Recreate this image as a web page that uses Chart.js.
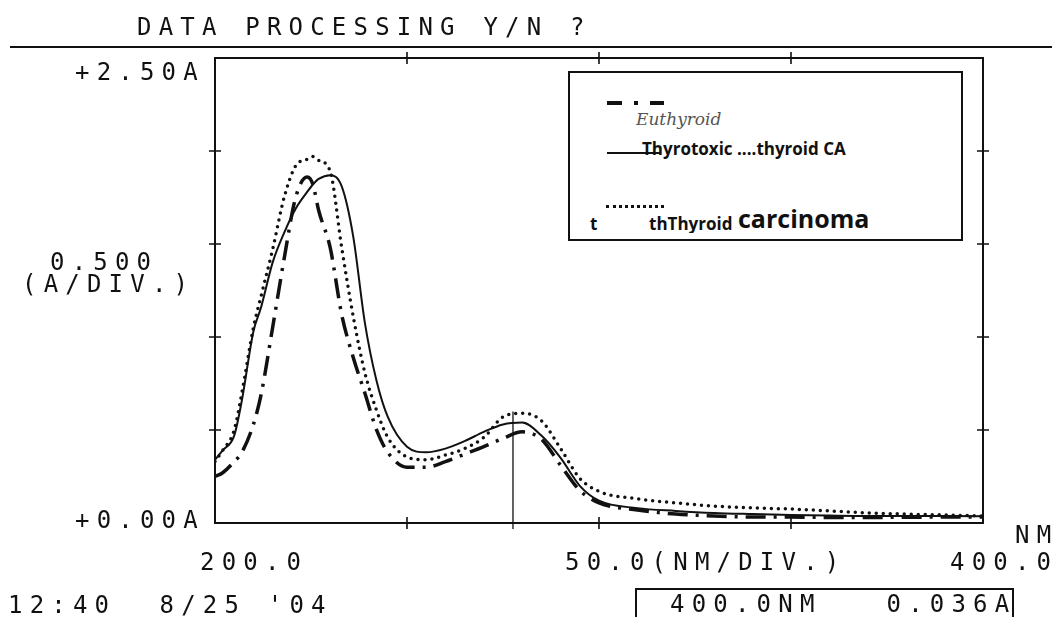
<!DOCTYPE html>
<html>
<head>
<meta charset="utf-8">
<script src="https://cdn.jsdelivr.net/npm/chart.js@4/dist/chart.umd.min.js"></script>
<style>
  html, body { margin: 0; padding: 0; background: #fff; overflow: hidden; }
  #wrap { position: relative; width: 1052px; height: 617px; }
  #wrap canvas { position: absolute; left: 0; top: 0; }
  .pl { position: absolute; font-family: "DejaVu Sans Mono", monospace; font-size: 24px;
        line-height: 24px; letter-spacing: 7.2px; color: #111; white-space: pre; }
  #legend { position: absolute; left: 568px; top: 71px; width: 391px; height: 166px;
            border: 2px solid #111; background: #fff; }
  .lg { position: absolute; white-space: pre; color: #111; }
  .bold { font-family: "Open Sans", sans-serif; font-weight: 700; }
  #readout { position: absolute; left: 635px; top: 588px; width: 375px; height: 34px;
             border: 2px solid #111; }
</style>
</head>
<body>
<div id="wrap">
  <canvas id="c" width="1052" height="617"></canvas>

  <div class="pl" style="left:137px; top:15px;">DATA PROCESSING Y/N ?</div>
  <div class="pl" style="left:75px; top:60px;">+2.50A</div>
  <div class="pl" style="left:50px; top:250px;">0.500</div>
  <div class="pl" style="left:22px; top:272px;">(A/DIV.)</div>
  <div class="pl" style="left:75px; top:508px;">+0.00A</div>
  <div class="pl" style="left:200px; top:550px;">200.0</div>
  <div class="pl" style="left:565px; top:550px;">50.0(NM/DIV.)</div>
  <div class="pl" style="left:950px; top:550px;">400.0</div>
  <div class="pl" style="left:1015px; top:523px;">NM</div>
  <div class="pl" style="left:8px; top:593px;">12:40  8/25 '04</div>
  <div id="readout"></div>
  <div class="pl" style="left:670px; top:592px;">400.0NM   0.036A</div>

  <div id="legend">
    <div style="position:absolute; left:37px; top:28px; width:15px; height:4px; background:#111;"></div>
    <div style="position:absolute; left:64px; top:28px; width:4px; height:4px; background:#111;"></div>
    <div style="position:absolute; left:80px; top:28px; width:14px; height:4px; background:#111;"></div>
    <div class="lg" style="left:66px; top:36px; font-family:'DejaVu Serif', serif; font-style:italic; font-size:17px; color:#555;">Euthyroid</div>
    <div style="position:absolute; left:37px; top:79px; width:54px; height:2px; background:#111;"></div>
    <div class="lg bold" style="left:72px; top:64px; font-size:17px;">Thyrotoxic ....thyroid CA</div>
    <div style="position:absolute; left:36px; top:132px; width:58px; height:0; border-top:3px dotted #111;"></div>
    <div class="lg bold" style="left:20px; top:139px; font-size:17px;">t</div>
    <div class="lg bold" style="left:79px; top:139px; font-size:17px; height:21px; overflow:hidden;">thThyroid</div>
    <div class="lg bold" style="left:168px; top:128px; font-size:25px;">carcinoma</div>
  </div>
</div>

<script>
// Wavelength (nm) and absorbance (A) readings for the three serum spectra
const wavelengths = [200, 202, 205, 207, 210, 212, 215, 218, 221, 224, 225.5, 227, 230, 233, 236, 239,
                     242, 245, 250, 255, 260, 265, 270, 275, 280, 285, 290, 295, 300, 310, 320,
                     330, 340, 350, 360, 370, 380, 390, 400];

const euthyroid = [0.25, 0.27, 0.33, 0.38, 0.53, 0.69, 1.05, 1.42, 1.75, 1.86, 1.82, 1.68, 1.48, 1.12, 0.89, 0.70,
                   0.505, 0.38, 0.30, 0.30, 0.33, 0.37, 0.41, 0.455, 0.49, 0.45, 0.31, 0.175, 0.108, 0.07, 0.048,
                   0.038, 0.032, 0.032, 0.030, 0.030, 0.031, 0.032, 0.032];

const thyrotoxic = [0.34, 0.39, 0.47, 0.66, 1.03, 1.16, 1.40, 1.56, 1.69, 1.78, 1.82, 1.85, 1.87, 1.81, 1.54, 1.08,
                    0.77, 0.57, 0.41, 0.38, 0.40, 0.44, 0.49, 0.53, 0.54, 0.47, 0.35, 0.20, 0.12, 0.08, 0.065,
                    0.054, 0.048, 0.043, 0.040, 0.038, 0.038, 0.037, 0.036];

const carcinoma = [0.33, 0.39, 0.50, 0.70, 1.05, 1.22, 1.47, 1.75, 1.92, 1.955, 1.97, 1.95, 1.89, 1.48, 1.11, 0.81,
                   0.61, 0.46, 0.355, 0.34, 0.365, 0.40, 0.46, 0.57, 0.59, 0.55, 0.40, 0.24, 0.17, 0.13, 0.108,
                   0.091, 0.081, 0.075, 0.065, 0.054, 0.048, 0.043, 0.038];

// Axis ranges and tick steps (50 nm/div, 0.5 A/div)
const xRange = [200, 400];
const yRange = [0, 2.5];
const xStep = 50;
const yStep = 0.5;
const cursorNm = 277.6;
const cursorTopA = 0.6;

const pairs = (ys) => wavelengths.map((x, i) => ({ x: x, y: ys[i] }));

// Plot frame, tick crosses, header rule and cursor line
const framePlugin = {
  id: 'frame',
  afterDraw(chart) {
    const ctx = chart.ctx;
    const a = chart.chartArea;
    const xs = chart.scales.x, ys = chart.scales.y;
    ctx.save();
    ctx.strokeStyle = '#111';
    ctx.lineWidth = 2;
    // header rule under the prompt line
    ctx.beginPath();
    ctx.moveTo(10, 47); ctx.lineTo(1052, 47);
    ctx.stroke();
    // plot frame
    ctx.strokeRect(a.left, a.top, a.right - a.left, a.bottom - a.top);
    // tick crosses
    ctx.lineWidth = 1.6;
    ctx.beginPath();
    for (let v = yRange[0] + yStep; v < yRange[1] - 1e-9; v += yStep) {
      const py = ys.getPixelForValue(v);
      ctx.moveTo(a.left - 6, py); ctx.lineTo(a.left + 6, py);
      ctx.moveTo(a.right - 6, py); ctx.lineTo(a.right + 6, py);
    }
    for (let v = xRange[0] + xStep; v < xRange[1] - 1e-9; v += xStep) {
      const px = xs.getPixelForValue(v);
      ctx.moveTo(px, a.top - 6); ctx.lineTo(px, a.top + 6);
      ctx.moveTo(px, a.bottom - 6); ctx.lineTo(px, a.bottom + 6);
    }
    ctx.stroke();
    // wavelength cursor
    const cx = xs.getPixelForValue(cursorNm);
    ctx.lineWidth = 1.3;
    ctx.beginPath();
    ctx.moveTo(cx, ys.getPixelForValue(cursorTopA));
    ctx.lineTo(cx, a.bottom + 6);
    ctx.stroke();
    ctx.restore();
  }
};

new Chart(document.getElementById('c'), {
  type: 'line',
  data: {
    datasets: [
      {
        label: 'Euthyroid',
        data: pairs(euthyroid),
        borderColor: '#111',
        borderWidth: 3.5,
        borderDash: [20, 8, 3, 8],
        borderCapStyle: 'butt',
        pointRadius: 0,
        cubicInterpolationMode: 'monotone',
        fill: false
      },
      {
        label: 'Thyrotoxic',
        data: pairs(thyrotoxic),
        borderColor: '#111',
        borderWidth: 2,
        pointRadius: 0,
        cubicInterpolationMode: 'monotone',
        fill: false
      },
      {
        label: 'Thyroid carcinoma',
        data: pairs(carcinoma),
        borderColor: '#111',
        borderWidth: 3.5,
        borderDash: [0, 7],
        borderCapStyle: 'round',
        pointRadius: 0,
        cubicInterpolationMode: 'monotone',
        fill: false
      }
    ]
  },
  options: {
    responsive: false,
    animation: false,
    layout: { padding: { left: 215, top: 58, right: 69, bottom: 94 } },
    plugins: { legend: { display: false }, tooltip: { enabled: false } },
    scales: {
      x: { type: 'linear', min: xRange[0], max: xRange[1], display: false },
      y: { type: 'linear', min: yRange[0], max: yRange[1], display: false }
    }
  },
  plugins: [framePlugin]
});
</script>
</body>
</html>
